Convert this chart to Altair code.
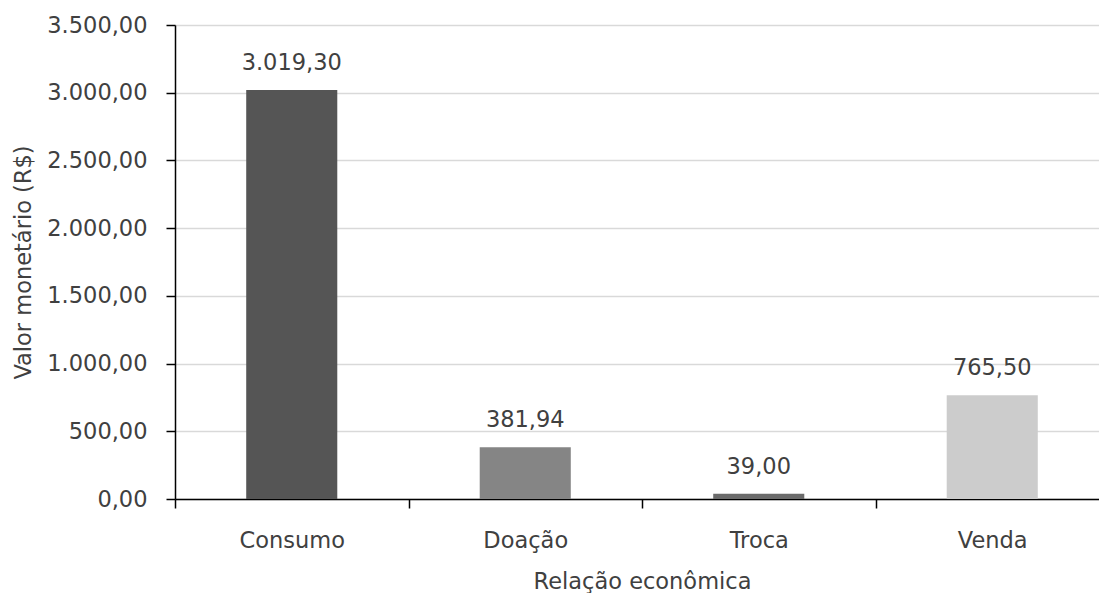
import altair as alt
import pandas as pd

# Valor monetário por tipo de relação econômica
categorias = ["Consumo", "Doação", "Troca", "Venda"]
valores = [3019.30, 381.94, 39.00, 765.50]
cores = ["#555555", "#858585", "#6b6b6b", "#cccccc"]
ticks_y = [0, 500, 1000, 1500, 2000, 2500, 3000, 3500]


def br(v):
    # 3019.3 -> "3.019,30"
    return f"{v:,.2f}".replace(",", "#").replace(".", ",").replace("#", ".")


df = pd.DataFrame({
    "categoria": categorias,
    "valor": valores,
    "rotulo": [br(v) for v in valores],
})

FONTE = "DejaVu Sans"
TAM = 22.5
COR_TEXTO = "#404040"
LARG = 924
ALT = 474

x_enc = alt.X(
    "categoria:N",
    sort=categorias,
    scale=alt.Scale(range=[0, 934], paddingInner=0, paddingOuter=0),
    axis=alt.Axis(
        title="Relação econômica",
        labelAngle=0,
        tickBand="extent",
        tickSize=9,
        tickColor="#000000",
        tickWidth=1.5,
        domainColor="#000000",
        domainWidth=1.5,
        labelPadding=39,
        labelBaseline="alphabetic",
        labelFont=FONTE,
        labelFontSize=TAM,
        labelColor=COR_TEXTO,
        titleFont=FONTE,
        titleFontSize=TAM,
        titleFontWeight="normal",
        titleColor=COR_TEXTO,
        titleX=467,
        titleY=89,
        titleBaseline="alphabetic",
        titleAnchor="middle",
    ),
)

y_enc = alt.Y(
    "valor:Q",
    scale=alt.Scale(domain=[0, 3500], nice=False),
    axis=alt.Axis(
        title="Valor monetário (R$)",
        values=ticks_y,
        labelExpr="replace(replace(replace(format(datum.value, ',.2f'), ',', '#'), '.', ','), '#', '.')",
        grid=True,
        gridColor="#d9d9d9",
        gridWidth=1.5,
        tickSize=9,
        tickColor="#000000",
        tickWidth=1.5,
        domainColor="#000000",
        domainWidth=1.5,
        labelPadding=19,
        labelFont=FONTE,
        labelFontSize=TAM,
        labelColor=COR_TEXTO,
        titleFont=FONTE,
        titleFontSize=TAM,
        titleFontWeight="normal",
        titleColor=COR_TEXTO,
        titleAngle=-90,
        titleX=-145,
        titleY=237,
        titleBaseline="alphabetic",
        titleAlign="center",
    ),
)

barras = alt.Chart(df).mark_bar(width=alt.RelativeBandSize(0.39)).encode(
    x=x_enc,
    y=y_enc,
    color=alt.Color("categoria:N", sort=categorias,
                    scale=alt.Scale(domain=categorias, range=cores), legend=None),
)

rotulos = alt.Chart(df).mark_text(
    baseline="alphabetic", dy=-20, font=FONTE, fontSize=TAM, color=COR_TEXTO
).encode(
    x=alt.X("categoria:N", sort=categorias),
    y=alt.Y("valor:Q"),
    text="rotulo:N",
)

chart = (
    alt.layer(barras, rotulos)
    .properties(
        width=LARG,
        height=ALT,
        autosize=alt.AutoSizeParams(type="none"),
        padding={"left": 175, "top": 25, "right": 0, "bottom": 94},
        background="#ffffff",
    )
    .configure_view(stroke=None)
)

chart.save("out.html", embed_options={"renderer": "svg", "actions": False})
